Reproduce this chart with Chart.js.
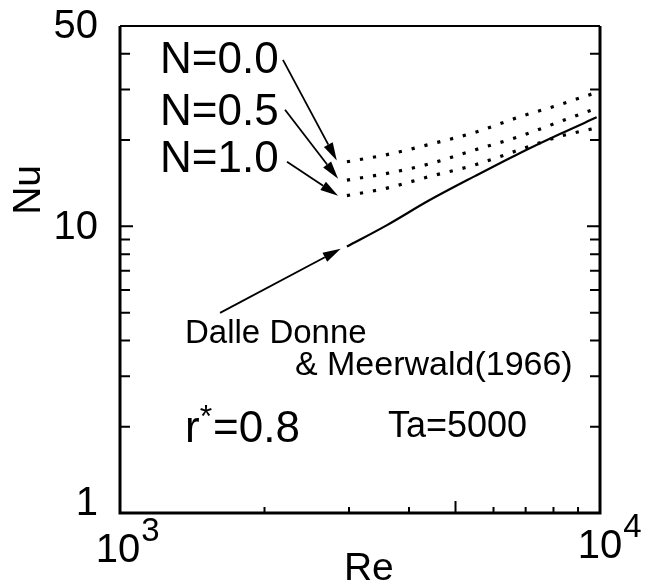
<!DOCTYPE html>
<html>
<head>
<meta charset="utf-8">
<script src="https://cdn.jsdelivr.net/npm/chart.js@4.4.1/dist/chart.umd.min.js"></script>
<style>
  html, body { margin: 0; padding: 0; background: #fff; }
  #wrap { width: 655px; height: 585px; }
</style>
</head>
<body>
<div id="wrap"><canvas id="nuChart"></canvas></div>
<script>
// Nu vs Re, r* = 0.8, Ta = 5000
const reCurves = [2970, 3600, 4400, 5500, 6800, 8250, 9760];
const nuN00 = [16.8, 17.8, 19.3, 21.3, 24.1, 26.6, 29.2];
const nuN05 = [14.5, 15.3, 16.5, 18.5, 20.6, 23.2, 25.7];
const nuN10 = [12.8, 13.6, 14.9, 16.4, 18.5, 20.6, 22.0];
const reDalle = [2970, 3600, 4400, 5500, 6800, 8250, 9840];
const nuDalle = [8.5, 10.1, 12.3, 15.0, 18.0, 21.0, 24.0];
const yTickLabels = [1, 10, 50];
const xTickLabels = [3, 4];   // exponents of 10

const FONT = '"Liberation Sans", Arial, sans-serif';

function pts(xs, ys) {
    return xs.map((x, i) => ({ x: x, y: ys[i] }));
}

// labels and arrows, anchored in data space (Re, Nu)
const notes = [
    { text: 'N=0.0', re: 1212, nu: 34.3, size: 44 },
    { text: 'N=0.5', re: 1212, nu: 22.6, size: 44 },
    { text: 'N=1.0', re: 1212, nu: 15.5, size: 44 },
    { text: 'Dalle Donne', re: 1366, nu: 3.92, size: 33 },
    { text: '& Meerwald(1966)', re: 2314, nu: 3.03, size: 34 },
    { text: 'Ta=5000', re: 3616, nu: 1.84, size: 36 }
];
const arrows = [
    [[2185, 38.1], [2829, 16.97]],
    [[2207, 25.5], [2847, 14.65]],
    [[2228, 16.8], [2847, 12.78]],
    [[1616, 4.99], [2883, 8.35]]
];

const framePlugin = {
    id: 'frame',
    afterDraw(chart) {
        const ctx = chart.ctx;
        const a = chart.chartArea;
        const xs = chart.scales.x, ys = chart.scales.y;
        ctx.save();
        ctx.strokeStyle = '#000';
        ctx.fillStyle = '#000';

        // box
        ctx.lineWidth = 3;
        ctx.beginPath();
        ctx.moveTo(a.left, a.top);
        ctx.lineTo(a.left, a.bottom);
        ctx.lineTo(a.right, a.bottom);
        ctx.lineTo(a.right, a.top);
        ctx.stroke();
        ctx.lineWidth = 2;
        ctx.beginPath();
        ctx.moveTo(a.left, a.top);
        ctx.lineTo(a.right, a.top);
        ctx.stroke();

        // inward ticks
        ctx.lineWidth = 2;
        ctx.beginPath();
        [2, 3, 4, 5, 6, 7, 8, 9, 10, 20, 30, 40].forEach(v => {
            const py = ys.getPixelForValue(v);
            const len = v === 10 ? 13 : 10;
            ctx.moveTo(a.left, py); ctx.lineTo(a.left + len, py);
            ctx.moveTo(a.right, py); ctx.lineTo(a.right - len, py);
        });
        [2000, 3000, 4000, 5000, 6000, 7000, 8000, 9000].forEach(v => {
            const px = xs.getPixelForValue(v);
            const len = v === 5000 ? 12 : 6;
            ctx.moveTo(px, a.bottom); ctx.lineTo(px, a.bottom - len);
        });
        ctx.stroke();

        // arrows
        ctx.lineWidth = 1.8;
        arrows.forEach(([t, h]) => {
            const x0 = xs.getPixelForValue(t[0]), y0 = ys.getPixelForValue(t[1]);
            const x1 = xs.getPixelForValue(h[0]), y1 = ys.getPixelForValue(h[1]);
            const ang = Math.atan2(y1 - y0, x1 - x0);
            const hl = 18, hw = 5;
            ctx.beginPath();
            ctx.moveTo(x0, y0);
            ctx.lineTo(x1 - hl * Math.cos(ang), y1 - hl * Math.sin(ang));
            ctx.stroke();
            ctx.beginPath();
            ctx.moveTo(x1, y1);
            ctx.lineTo(x1 - hl * Math.cos(ang) + hw * Math.sin(ang), y1 - hl * Math.sin(ang) - hw * Math.cos(ang));
            ctx.lineTo(x1 - hl * Math.cos(ang) - hw * Math.sin(ang), y1 - hl * Math.sin(ang) + hw * Math.cos(ang));
            ctx.closePath();
            ctx.fill();
        });

        // annotation text
        ctx.textBaseline = 'alphabetic';
        ctx.textAlign = 'left';
        notes.forEach(n => {
            ctx.font = n.size + 'px ' + FONT;
            ctx.fillText(n.text, xs.getPixelForValue(n.re), ys.getPixelForValue(n.nu));
        });
        // r*=0.8 with raised star
        let rx = xs.getPixelForValue(1366), ry = ys.getPixelForValue(1.77);
        ctx.font = '44px ' + FONT;
        ctx.fillText('r', rx, ry);
        rx += ctx.measureText('r').width;
        ctx.font = '32px ' + FONT;
        ctx.fillText('*', rx, ry - 15);
        rx += ctx.measureText('*').width + 1;
        ctx.font = '44px ' + FONT;
        ctx.fillText('=0.8', rx, ry);

        // y tick labels
        ctx.font = '40px ' + FONT;
        ctx.textAlign = 'right';
        const yOff = { 1: 2, 10: 13, 50: 12 };
        yTickLabels.forEach(v => {
            ctx.fillText(String(v), a.left - 22, ys.getPixelForValue(v) + yOff[v]);
        });

        // x tick labels: 10^n
        xTickLabels.forEach(e => {
            const px = xs.getPixelForValue(Math.pow(10, e));
            const base = a.bottom + (e === 3 ? 49 : 45);
            ctx.textAlign = 'left';
            ctx.font = '40px ' + FONT;
            const w = ctx.measureText('10').width;
            const x0 = px - w / 2 + (e === 3 ? -2 : 0);
            ctx.fillText('10', x0, base);
            ctx.font = '33px ' + FONT;
            ctx.fillText(String(e), x0 + w + 1, base - 21);
        });

        // axis titles
        ctx.font = '39px ' + FONT;
        ctx.textAlign = 'center';
        ctx.fillText('Re', xs.getPixelForValue(3300), a.bottom + 67);
        ctx.save();
        ctx.translate(a.left - 91, ys.getPixelForValue(13.4));
        ctx.rotate(-Math.PI / 2);
        ctx.textBaseline = 'middle';
        ctx.fillText('Nu', 0, 0);
        ctx.restore();

        ctx.restore();
    }
};

const dotted = { borderColor: '#000', borderWidth: 3.2, borderDash: [3.2, 10], pointRadius: 0, fill: false, cubicInterpolationMode: 'monotone', showLine: true };

new Chart(document.getElementById('nuChart'), {
    type: 'scatter',
    data: {
        datasets: [
            Object.assign({ label: 'N=0.0', data: pts(reCurves, nuN00) }, dotted),
            Object.assign({ label: 'N=0.5', data: pts(reCurves, nuN05) }, dotted),
            Object.assign({ label: 'N=1.0', data: pts(reCurves, nuN10) }, dotted),
            {
                label: 'Dalle Donne & Meerwald (1966)',
                data: pts(reDalle, nuDalle),
                borderColor: '#000',
                borderWidth: 2.2,
                pointRadius: 0,
                fill: false,
                cubicInterpolationMode: 'monotone',
                showLine: true
            }
        ]
    },
    options: {
        responsive: true,
        maintainAspectRatio: false,
        animation: false,
        layout: { padding: { left: 120, right: 55, top: 26, bottom: 72 } },
        plugins: {
            legend: { display: false },
            tooltip: { enabled: false }
        },
        scales: {
            x: {
                type: 'logarithmic',
                min: 1000,
                max: 10000,
                ticks: { display: false },
                grid: { display: false, drawTicks: false },
                border: { display: false }
            },
            y: {
                type: 'logarithmic',
                min: 1,
                max: 50,
                ticks: { display: false },
                grid: { display: false, drawTicks: false },
                border: { display: false }
            }
        }
    },
    plugins: [framePlugin]
});
</script>
</body>
</html>
